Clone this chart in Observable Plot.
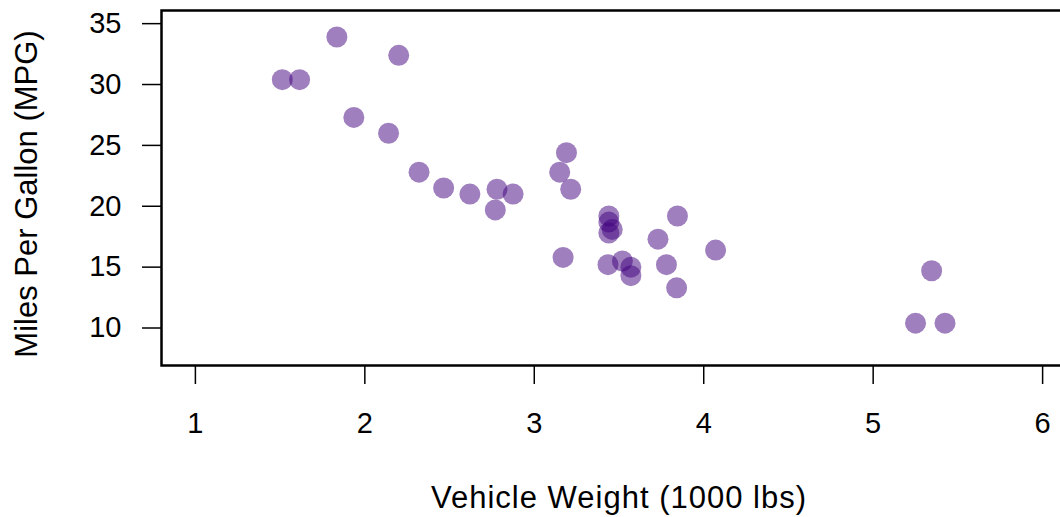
<!DOCTYPE html>
<html>
<head>
<meta charset="utf-8">
<script src="https://cdn.jsdelivr.net/npm/d3@7"></script>
<script src="https://cdn.jsdelivr.net/npm/@observablehq/plot@0.6"></script>
<style>
  html, body { margin: 0; padding: 0; background: #fff; overflow: hidden; }
  #chart { width: 1060px; height: 517px; overflow: hidden; }
  #chart svg { max-width: none !important; width: 1100px; height: 517px; display: block; }
</style>
</head>
<body>
<div id="chart"></div>
<script>
// mtcars: weight (1000 lbs) and miles per gallon
const weight = [2.620, 2.875, 2.320, 3.215, 3.440, 3.460, 3.570, 3.190, 3.150, 3.440, 3.440, 4.070, 3.730, 3.780, 5.250, 5.424, 5.345, 2.200, 1.615, 1.835, 2.465, 3.520, 3.435, 3.840, 3.845, 1.935, 2.140, 1.513, 3.170, 2.770, 3.570, 2.780];
const mpg    = [21.0, 21.0, 22.8, 21.4, 18.7, 18.1, 14.3, 24.4, 22.8, 19.2, 17.8, 16.4, 17.3, 15.2, 10.4, 10.4, 14.7, 32.4, 30.4, 33.9, 21.5, 15.5, 15.2, 13.3, 19.2, 27.3, 26.0, 30.4, 15.8, 19.7, 15.0, 21.4];
const xTicks = [1, 2, 3, 4, 5, 6];
const yTicks = [10, 15, 20, 25, 30, 35];
const xLabel = "Vehicle Weight (1000 lbs)";
const yLabel = "Miles Per Gallon (MPG)";

const data = weight.map((w, i) => ({wt: w, mpg: mpg[i]}));
const font = "Liberation Sans, Arial, Helvetica, sans-serif";

const chart = Plot.plot({
  width: 1100,
  height: 517,
  marginLeft: 161,
  marginTop: 10,
  marginBottom: 152,
  marginRight: 24,
  style: {fontFamily: font, background: "#fff", color: "#000"},
  x: {domain: [0.8, 6.2]},
  y: {domain: [6.92, 36.08]},
  marks: [
    Plot.dot(data, {x: "wt", y: "mpg", r: 10.5, fill: "#3f007d", fillOpacity: 0.5, stroke: "none"}),
    Plot.frame({stroke: "#000", strokeWidth: 2.5}),
    Plot.axisY({ticks: yTicks, tickSize: 19, tickPadding: 21, fontSize: 29, label: null, strokeWidth: 1.5, tickFormat: d => String(d)}),
    Plot.axisX({ticks: xTicks, tickSize: 19, tickPadding: 28, fontSize: 29, label: null, strokeWidth: 1.5, tickFormat: d => String(d)}),
    Plot.text([xLabel], {frameAnchor: "bottom", dy: 133, text: d => d, fontSize: 31, lineAnchor: "middle", textAnchor: "middle", fill: "#000"}),
    Plot.text([yLabel], {frameAnchor: "left", dx: -134, dy: 6, text: d => d, fontSize: 31, rotate: -90, lineAnchor: "middle", textAnchor: "middle", fill: "#000"})
  ]
});
// slightly wider letter spacing on the x-axis title, as in the reference
d3.select(chart).selectAll("text")
  .filter(function () { return this.textContent === xLabel; })
  .attr("letter-spacing", "1px");
document.getElementById("chart").append(chart);
</script>
</body>
</html>
